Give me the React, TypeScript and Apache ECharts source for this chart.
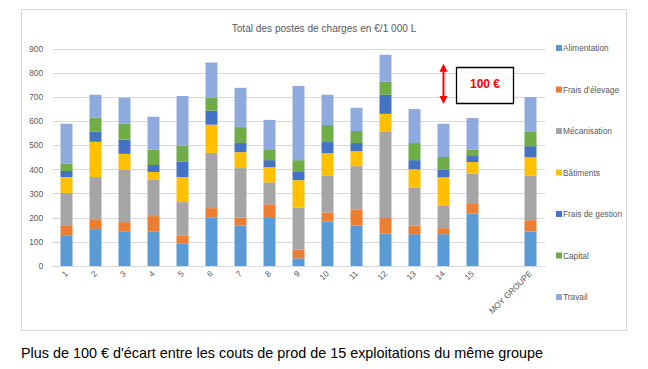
import React, { useEffect, useRef } from "react";
import * as echarts from "echarts";

const categories = ["1","2","3","4","5","6","7","8","9","10","11","12","13","14","15","","MOY GROUPE"];
const seriesNames = ["Alimentation","Frais d'élevage","Mécanisation","Bâtiments","Frais de gestion","Capital","Travail"];
const colors = ["#5B9BD5","#ED7D31","#A5A5A5","#FFC000","#4472C4","#70AD47","#8FAADC"];
const alimentation = [125,153,142,144,94,200,168,199,32,185,168,135,132,132,218,null,143];
const fraisElevage = [44,41,40,63,31,40,33,57,36,37,67,64,36,25,39,null,47];
const mecanisation = [134,175,217,150,140,229,205,91,175,154,179,357,156,92,125,null,184];
const batiments = [66,146,66,33,104,117,66,63,113,92,62,75,77,119,49,null,77];
const fraisGestion = [25,42,59,29,63,58,38,29,37,46,34,79,38,31,25,null,46];
const capital = [31,58,66,63,67,54,66,42,46,71,50,54,71,53,26,null,59];
const travail = [165,95,108,137,206,146,163,125,308,125,96,112,141,138,132,null,145];
const arrowCategory = "14";
const arrowFrom = 672;
const arrowTo = 839;
const title = "Total des postes de charges en €/1 000 L";
const caption = "Plus de 100 € d'écart entre les couts de prod de 15 exploitations du même groupe";
const boxText = "100 €";

export default function App() {
  const ref = useRef<HTMLDivElement>(null);
  useEffect(() => {
    const chart = echarts.init(ref.current!, null, { renderer: "svg" });
    const values = [alimentation, fraisElevage, mecanisation, batiments, fraisGestion, capital, travail];
    const font = "Liberation Sans";
    chart.setOption({
      animation: false,
      textStyle: { fontFamily: font },
      title: {
        text: title,
        left: 319,
        textAlign: "center",
        top: 18,
        textStyle: { fontSize: 10.1, fontWeight: "normal", color: "#595959", fontFamily: font },
      },
      legend: {
        orient: "vertical",
        left: 551,
        top: 38,
        itemWidth: 6,
        itemHeight: 6,
        itemGap: 31.5,
        icon: "rect",
        data: seriesNames,
        textStyle: { fontSize: 8.3, color: "#595959", lineHeight: 10, padding: [0, 0, 0, -4] },
      },
      grid: { left: 52, right: 648 - 545, top: 49, bottom: 369 - 266 },
      xAxis: {
        type: "category",
        data: categories,
        axisLine: { lineStyle: { color: "#d9d9d9" } },
        axisTick: { show: false },
        axisLabel: { rotate: 45, fontSize: 8.3, color: "#595959", interval: 0, margin: 6 },
      },
      yAxis: {
        type: "value",
        min: 0,
        max: 900,
        interval: 100,
        axisLine: { show: false },
        axisTick: { show: false },
        splitLine: { lineStyle: { color: "#d9d9d9" } },
        axisLabel: { fontSize: 8.3, color: "#595959", margin: 9 },
      },
      series: seriesNames.map((name, i) => ({
        name,
        type: "bar",
        stack: "total",
        barWidth: 12,
        itemStyle: { color: colors[i] },
        data: values[i].map((v) => (v == null ? "-" : v)),
      })),
    });
    const p1 = chart.convertToPixel({ xAxisIndex: 0, yAxisIndex: 0 }, [arrowCategory, arrowFrom]) as number[];
    const p2 = chart.convertToPixel({ xAxisIndex: 0, yAxisIndex: 0 }, [arrowCategory, arrowTo]) as number[];
    const ax = p1[0];
    const red = "#FF0000";
    chart.setOption({
      graphic: [
        { type: "rect", shape: { x: 21.5, y: 9.5, width: 605, height: 321 }, style: { fill: "none", stroke: "#d9d9d9", lineWidth: 1 }, silent: true },
        { type: "line", shape: { x1: ax, y1: p2[1] + 6, x2: ax, y2: p1[1] - 6 }, style: { stroke: red, lineWidth: 2 } },
        { type: "polygon", shape: { points: [[ax - 4, p2[1] + 8], [ax + 4, p2[1] + 8], [ax, p2[1]]] }, style: { fill: red } },
        { type: "polygon", shape: { points: [[ax - 4, p1[1] - 8], [ax + 4, p1[1] - 8], [ax, p1[1]]] }, style: { fill: red } },
        { type: "rect", shape: { x: ax + 13, y: 67.5, width: 57, height: 36 }, style: { fill: "#ffffff", stroke: "#000000", lineWidth: 1.3 } },
        { type: "text", x: ax + 41.5, y: 84, style: { text: boxText, fill: red, font: "bold 12px 'Liberation Sans'", align: "center", verticalAlign: "middle" } },
        { type: "text", x: 21, y: 353, style: { text: caption, fill: "#000000", font: "14.4px 'Liberation Sans'", align: "left", verticalAlign: "middle" } },
      ],
    });
    return () => chart.dispose();
  }, []);
  return <div ref={ref} style={{ width: 648, height: 369, position: "absolute", left: 0, top: 0 }} />;
}
